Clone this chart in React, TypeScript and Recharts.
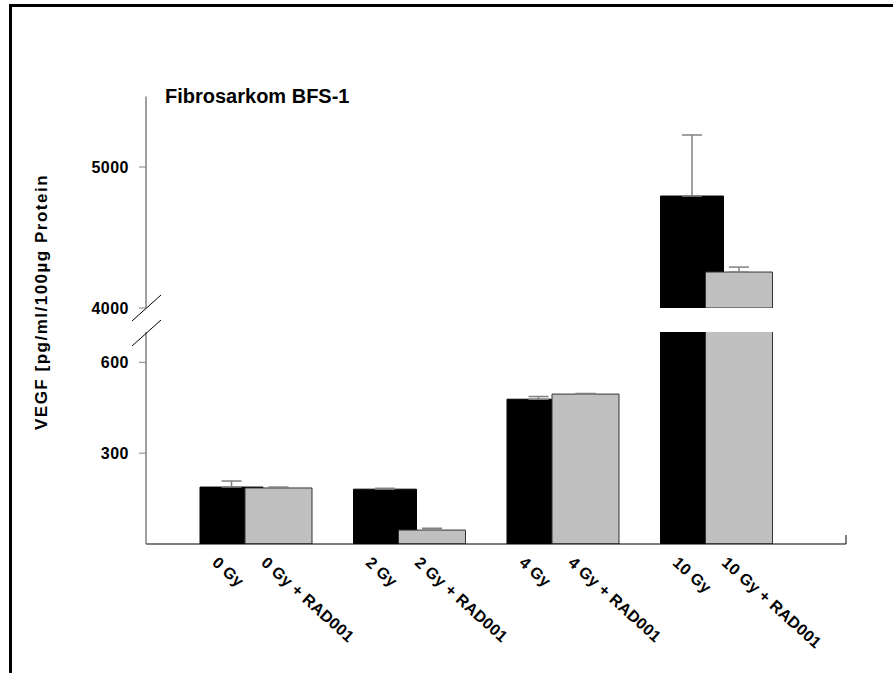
import React from "react";
import { BarChart, Bar, XAxis, YAxis, ErrorBar } from "recharts";

// VEGF per condition
const doses = ["0 Gy", "2 Gy", "4 Gy", "10 Gy"];
const radLabels = ["0 Gy + RAD001", "2 Gy + RAD001", "4 Gy + RAD001", "10 Gy + RAD001"];
const vegfDose = [188, 181, 478, 4794];
const vegfDoseErr = [20, 3, 9, 433];
const vegfRad = [185, 46, 495, 4255];
const vegfRadErr = [3, 6, 2, 35];

const lowTicks = [300, 600];
const highTicks = [4000, 5000];
const lowDomain = [0, 700];
const highDomain = [4000, 5500];

const FONT = "Arial, 'Liberation Sans', sans-serif";

const lowData = doses.map((d, i) => ({
  dose: d,
  black: vegfDose[i],
  gray: vegfRad[i],
  blackErr: [0, vegfDoseErr[i]],
  grayErr: [0, vegfRadErr[i]],
}));

// only the bars that reach above the axis break show in the upper panel
const highData = doses.map((d, i) => ({
  dose: d,
  black: vegfDose[i] > highDomain[0] ? vegfDose[i] : null,
  gray: vegfRad[i] > highDomain[0] ? vegfRad[i] : null,
  blackErr: vegfDose[i] > highDomain[0] ? [0, vegfDoseErr[i]] : null,
  grayErr: vegfRad[i] > highDomain[0] ? [0, vegfRadErr[i]] : null,
}));

const BLACK_W = 63;
const GRAY_W = 67;
const GAP = -18;

const ValueTick = (props: any) => {
  const { x, y, payload } = props;
  return (
    <text
      x={x}
      y={y}
      dy={5.5}
      textAnchor="end"
      fontSize={16}
      fontWeight="bold"
      fontFamily={FONT}
      letterSpacing={0.5}
      fill="#000"
    >
      {payload.value}
    </text>
  );
};

const DoseTick = (props: any) => {
  const { x, y, payload } = props;
  const i = payload.index;
  const groupStart = x - (BLACK_W + GRAY_W + GAP) / 2;
  const blackMid = groupStart + BLACK_W / 2;
  const grayMid = groupStart + BLACK_W + GAP + GRAY_W / 2;
  const style = {
    fontSize: 16,
    fontWeight: "bold" as const,
    fontFamily: FONT,
    letterSpacing: 0.3,
  };
  return (
    <g>
      <text transform={`translate(${blackMid - 20},${y + 18}) rotate(42)`} style={style} fill="#000">
        {doses[i]}
      </text>
      <text transform={`translate(${grayMid - 18},${y + 18}) rotate(42)`} style={style} fill="#000">
        {radLabels[i]}
      </text>
    </g>
  );
};

function Bars() {
  return [
    <Bar key="b" dataKey="black" fill="#000" stroke="#000" barSize={BLACK_W} isAnimationActive={false}>
      <ErrorBar dataKey="blackErr" width={10} stroke="#808080" strokeWidth={1.5} direction="y" />
    </Bar>,
    <Bar key="g" dataKey="gray" fill="#c0c0c0" stroke="#333" barSize={GRAY_W} isAnimationActive={false}>
      <ErrorBar dataKey="grayErr" width={10} stroke="#808080" strokeWidth={1.5} direction="y" />
    </Bar>,
  ];
}

export default function App() {
  return (
    <div style={{ position: "absolute", left: 0, top: 0, width: 893, height: 673, background: "#fff", overflow: "hidden" }}>
      {/* frame */}
      <div
        style={{
          position: "absolute",
          left: 9,
          top: 4,
          width: 900,
          height: 700,
          borderLeft: "3px solid #000",
          borderTop: "3px solid #000",
        }}
      />

      {/* lower panel 0..700 */}
      <div style={{ position: "absolute", left: 0, top: 0 }}>
        <BarChart
          width={893}
          height={673}
          data={lowData}
          barGap={GAP}
          margin={{ top: 332, right: 47, bottom: 0, left: 0 }}
        >
          <XAxis
            dataKey="dose"
            height={129}
            padding={{ left: 33, right: 53 }}
            axisLine={{ stroke: "#000", strokeWidth: 1.2 }}
            tickLine={false}
            tickSize={0}
            tick={<DoseTick />}
            interval={0}
          />
          <YAxis
            width={146}
            domain={lowDomain}
            ticks={lowTicks}
            allowDataOverflow
            axisLine={{ stroke: "#808080", strokeWidth: 1.5 }}
            tickLine={{ stroke: "#808080" }}
            tickSize={7}
            tickMargin={10}
            tick={<ValueTick />}
          />
          {Bars()}
        </BarChart>
      </div>

      {/* upper panel 4000..5500 */}
      <div style={{ position: "absolute", left: 0, top: 0 }}>
        <BarChart
          width={893}
          height={325}
          data={highData}
          barGap={GAP}
          margin={{ top: 96.5, right: 47, bottom: 17, left: 0 }}
        >
          <XAxis dataKey="dose" hide padding={{ left: 33, right: 53 }} />
          <YAxis
            width={146}
            domain={highDomain}
            ticks={highTicks}
            interval={0}
            allowDataOverflow
            axisLine={{ stroke: "#808080", strokeWidth: 1.5 }}
            tickLine={{ stroke: "#808080" }}
            tickSize={7}
            tickMargin={10}
            tick={<ValueTick />}
          />
          {Bars()}
        </BarChart>
      </div>

      {/* title, axis title, axis break marks */}
      <svg width={893} height={673} style={{ position: "absolute", left: 0, top: 0, pointerEvents: "none" }}>
        <text x={165} y={103} fontSize={20} fontWeight="bold" fontFamily={FONT} fill="#000">
          Fibrosarkom BFS-1
        </text>
        <text
          transform="translate(47,302) rotate(-90)"
          textAnchor="middle"
          fontSize={17}
          fontWeight="bold"
          fontFamily={FONT}
          letterSpacing={1.5}
          fill="#000"
        >
          VEGF [pg/ml/100µg Protein
        </text>
        <line x1={132} y1={321} x2={161} y2={295} stroke="#000" strokeWidth={1} />
        <line x1={132} y1={346} x2={161} y2={320} stroke="#000" strokeWidth={1} />
        <line x1={846} y1={535} x2={846} y2={544} stroke="#000" strokeWidth={1} />
      </svg>
    </div>
  );
}
